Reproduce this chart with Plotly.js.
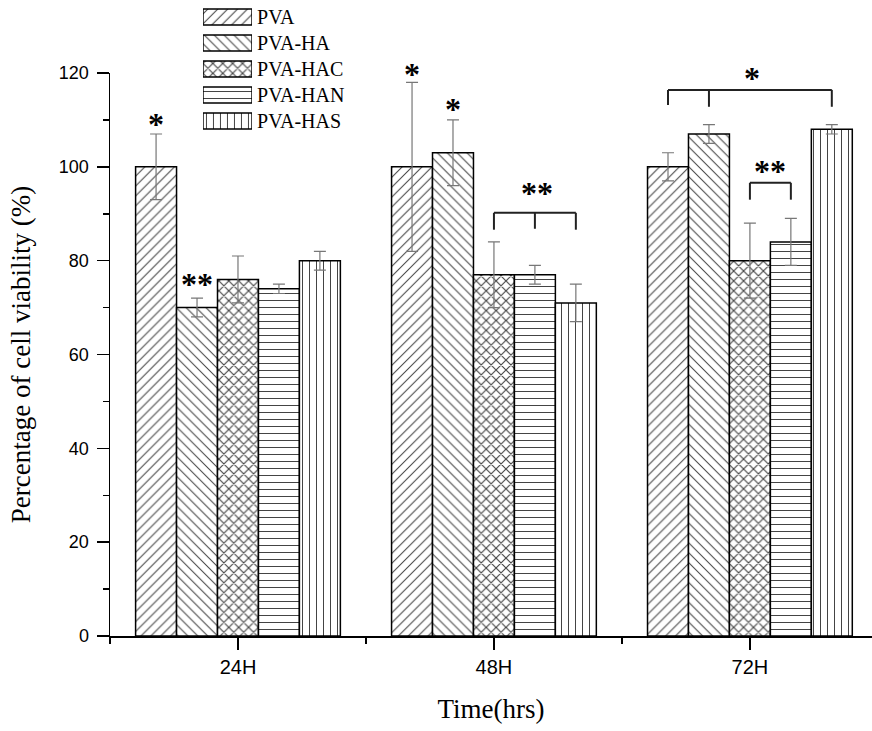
<!DOCTYPE html>
<html>
<head>
<meta charset="utf-8">
<script src="https://cdn.plot.ly/plotly-3.0.1.min.js"></script>
<style>html,body{margin:0;padding:0;background:#fff;}#chart{width:872px;height:731px;}</style>
</head>
<body>
<div id="chart"></div>
<script>
// ---- data ----
var categories = ["24H", "48H", "72H"];
var seriesNames = ["PVA", "PVA-HA", "PVA-HAC", "PVA-HAN", "PVA-HAS"];
var PVA     = [100, 100, 100];
var PVA_HA  = [70, 103, 107];
var PVA_HAC = [76, 77, 80];
var PVA_HAN = [74, 77, 84];
var PVA_HAS = [80, 71, 108];
var errPVA     = [7, 18, 3];
var errPVA_HA  = [2, 7, 2];
var errPVA_HAC = [5, 7, 8];
var errPVA_HAN = [1, 2, 5];
var errPVA_HAS = [2, 4, 1];
var yTicks = [0, 20, 40, 60, 80, 100, 120];

var values = [PVA, PVA_HA, PVA_HAC, PVA_HAN, PVA_HAS];
var errors = [errPVA, errPVA_HA, errPVA_HAC, errPVA_HAN, errPVA_HAS];
var shapesP = ["/", "\\", "x", "-", "|"];
var solid = [0.15, 0.15, 0.3, 0.15, 0.15];
var xIdx = categories.map(function(c, i){ return i; });
var yMax = 120;

var traces = [];
for (var s = 0; s < 5; s++) {
  traces.push({
    type: "bar", name: seriesNames[s], x: xIdx, y: values[s],
    xaxis: "x", yaxis: "y", showlegend: false, hoverinfo: "none",
    marker: { color: "#ffffff", line: { color: "#000000", width: 1.5 },
      pattern: { shape: shapesP[s], fgcolor: "#444444", bgcolor: "#ffffff", size: 7, solidity: solid[s] } },
    error_y: { type: "data", array: errors[s], visible: true, color: "#777777", thickness: 1.2, width: 6 }
  });
}
// legend swatches (hidden mini axes)
traces.push({
  type: "bar", orientation: "h", x: seriesNames.map(function(){return 1;}), y: seriesNames,
  xaxis: "x2", yaxis: "y2", showlegend: false, hoverinfo: "none", width: 0.62,
  marker: { color: "#ffffff", line: { color: "#000000", width: 1.5 },
    pattern: { shape: shapesP, fgcolor: "#444444", bgcolor: "#ffffff", size: 7, solidity: solid } }
});

// bar centre offsets within group
var groupW = 0.8, barW = groupW / 5;
function bx(cat, bar) { return cat - groupW / 2 + barW * (bar + 0.5); }

var lineStyle = { color: "#222222", width: 2 };
function seg(x0, y0, x1, y1) {
  return { type: "line", xref: "x", yref: "y", x0: x0, y0: y0, x1: x1, y1: y1, line: lineStyle };
}
var shapes = [
  // 48H ** bracket (HAC, HAN, HAS)
  seg(bx(1,2), 90.2, bx(1,4), 90.2), seg(bx(1,2), 90.2, bx(1,2), 86.6),
  seg(bx(1,3), 90.2, bx(1,3), 86.8), seg(bx(1,4), 90.2, bx(1,4), 86.6),
  // 72H * bracket (PVA, HA, HAS)
  seg(bx(2,0), 116.4, bx(2,4), 116.4), seg(bx(2,0), 116.4, bx(2,0), 113.2),
  seg(bx(2,1), 116.4, bx(2,1), 112.8), seg(bx(2,4), 116.4, bx(2,4), 112.8),
  // 72H ** bracket (HAC, HAN)
  seg(bx(2,2), 96.6, bx(2,3), 96.6), seg(bx(2,2), 96.6, bx(2,2), 93),
  seg(bx(2,3), 96.6, bx(2,3), 93)
];

var starFont = { family: "Liberation Serif, Times New Roman, serif", size: 32, color: "#000000" };
function star(t, x, y) {
  return { text: "<b>" + t + "</b>", x: x, y: y / yMax, xref: "x", yref: "y domain", showarrow: false,
    xanchor: "center", yanchor: "middle", font: starFont, yshift: -6 };
}
var annotations = [
  star("*", bx(0,0), 110.4),
  star("**", bx(0,1), 76.4),
  star("*", bx(1,0), 121),
  star("*", bx(1,1), 113.6),
  star("**", bx(1,3) + 0.01, 95.7),
  star("*", (bx(2,0) + bx(2,4)) / 2 + 0.01, 120.3),
  star("**", (bx(2,2) + bx(2,3)) / 2, 100.4)
];

var layout = {
  width: 872, height: 731,
  margin: { l: 110, r: 0, t: 0, b: 95, pad: 0 },
  paper_bgcolor: "#ffffff", plot_bgcolor: "rgba(0,0,0,0)",
  barmode: "group", bargap: 0.2, bargroupgap: 0,
  showlegend: false,
  xaxis: {
    domain: [0, 1], anchor: "y", range: [-0.5, 2.477], type: "linear",
    tickmode: "array", tickvals: xIdx, ticktext: categories,
    ticks: "outside", ticklen: 12, tickwidth: 1.5, tickcolor: "#000",
    minor: { tickmode: "array", tickvals: [-0.5, 0.5, 1.5, 2.5], ticks: "outside", ticklen: 6, tickwidth: 1.5, tickcolor: "#000" },
    showline: true, linecolor: "#000", linewidth: 1.5, showgrid: false, zeroline: false,
    tickfont: { family: "Liberation Sans, Arial, sans-serif", size: 20, color: "#000" },
    title: { text: "Time(hrs)", font: { family: "Liberation Serif, Times New Roman, serif", size: 27, color: "#000" }, standoff: 22 },
    automargin: false
  },
  yaxis: {
    domain: [0, 563 / 636], anchor: "x", range: [0, yMax],
    tickmode: "array", tickvals: yTicks,
    ticks: "outside", ticklen: 12, tickwidth: 1.5, tickcolor: "#000",
    minor: { dtick: 10, ticks: "outside", ticklen: 6, tickwidth: 1.5, tickcolor: "#000" },
    showline: true, linecolor: "#000", linewidth: 1.5, showgrid: false, zeroline: false,
    tickfont: { family: "Liberation Sans, Arial, sans-serif", size: 18, color: "#000" },
    ticklabelstandoff: 4,
    title: { text: "Percentage of cell viability (%)", font: { family: "Liberation Serif, Times New Roman, serif", size: 27, color: "#000" }, standoff: 20 },
    automargin: false
  },
  xaxis2: { domain: [0.122, 0.1864], anchor: "y2", range: [0, 1], visible: false, fixedrange: true },
  yaxis2: {
    domain: [0.7893, 0.9937], anchor: "x2", type: "category", autorange: "reversed",
    side: "right", showline: false, showgrid: false, zeroline: false, ticks: "",
    tickfont: { family: "Liberation Serif, Times New Roman, serif", size: 20, color: "#000" },
    ticklabelstandoff: 4, fixedrange: true
  },
  shapes: shapes,
  annotations: annotations
};

Plotly.newPlot("chart", traces, layout, { displayModeBar: false, staticPlot: true });
</script>
</body>
</html>
